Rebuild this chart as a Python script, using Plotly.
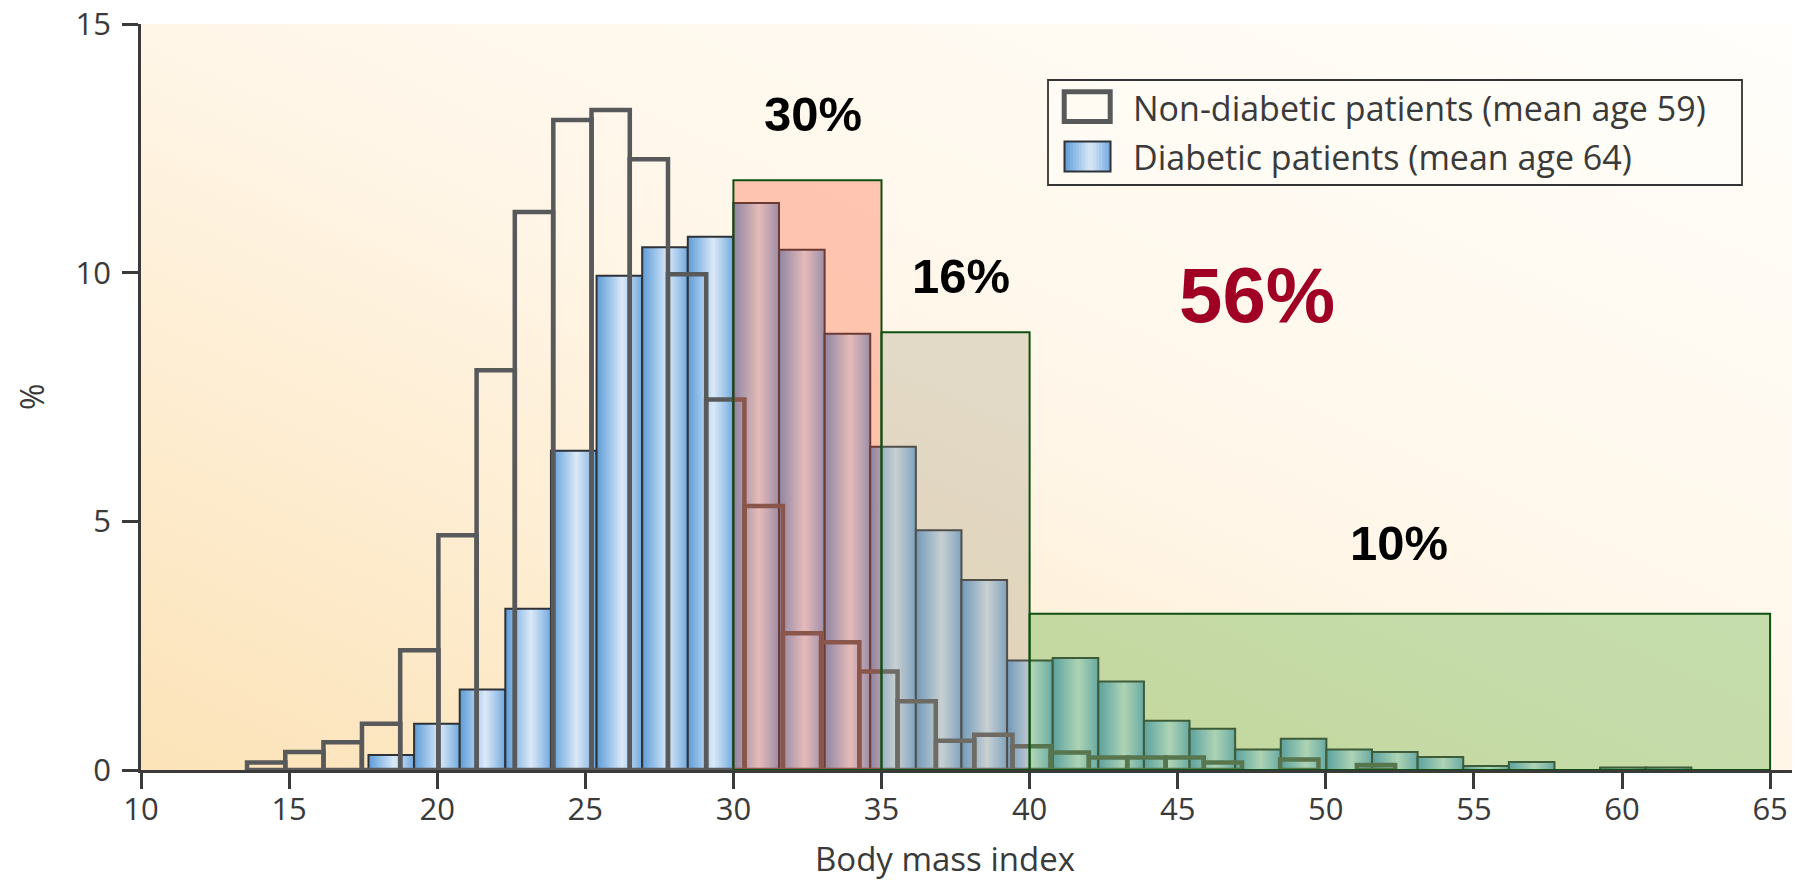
import base64
import plotly.graph_objects as go

# ---------------- data ----------------
bmi_ticks = [10, 15, 20, 25, 30, 35, 40, 45, 50, 55, 60, 65]
pct_ticks = [0, 5, 10, 15]

# Non-diabetic patients: histogram bins (left edge, % of patients)
nondiab_left = [13.58, 14.87, 16.16, 17.46, 18.75, 20.04, 21.33, 22.62, 23.92, 25.21,
                26.50, 27.79, 29.08, 30.38, 31.67, 32.96, 34.25, 35.54, 36.84, 38.13,
                39.42, 40.71, 42.00, 43.30, 44.59, 45.88, 47.17, 48.46, 49.76, 51.05]
nondiab_pct = [0.15, 0.36, 0.56, 0.93, 2.41, 4.72, 8.04, 11.22, 13.07, 13.27,
               12.28, 9.97, 7.45, 5.31, 2.75, 2.57, 1.98, 1.38, 0.59, 0.71,
               0.48, 0.35, 0.25, 0.25, 0.25, 0.15, 0.0, 0.21, 0.0, 0.10]
nondiab_width = 1.292

# Diabetic patients: histogram bins (left edge, % of patients)
diab_left = [17.68, 19.22, 20.76, 22.30, 23.84, 25.38, 26.92, 28.46, 30.00, 31.54,
             33.08, 34.62, 36.16, 37.70, 39.24, 40.78, 42.32, 43.86, 45.40, 46.94,
             48.48, 50.02, 51.56, 53.10, 54.64, 56.18, 57.72, 59.26, 60.80]
diab_pct = [0.30, 0.93, 1.62, 3.24, 6.42, 9.94, 10.51, 10.72, 11.40, 10.46,
            8.77, 6.50, 4.82, 3.82, 2.20, 2.25, 1.78, 0.99, 0.83, 0.41,
            0.63, 0.41, 0.36, 0.26, 0.08, 0.16, 0.0, 0.05, 0.05]
diab_width = 1.54

# Highlighted BMI classes (obesity I, II, III) for diabetic patients
region_lo = [30, 35, 40]
region_hi = [35, 40, 65]
region_top = [11.86, 8.80, 3.14]
region_label = ["30%", "16%", "10%"]
total_label = "56%"

legend_labels = ["Non-diabetic patients (mean age 59)", "Diabetic patients (mean age 64)"]

# ---------------- styling ----------------
OFF = 8                       # default page margin of the html body
W, H = 1800 - OFF, 881 - OFF  # figure size
PL, PR, PT, PB = 141, 1800, 24, 770   # plot area in page pixels
TXT = "#3a3a3a"
FONT = "Open Sans"

blue_cs = [[0.0, "#5f9bd4"], [0.22, "#8dbbe6"], [0.56, "#dbe9f7"], [0.82, "#9fc5ea"], [1.0, "#6fa8dc"]]
region_fill = ["rgba(255,80,40,0.30)", "rgba(160,150,120,0.30)", "rgba(89,172,55,0.35)"]
region_line = "#0f4f12"


def px_x(p):
    return (p - PL) / (PR - PL)


def px_y(p):
    return (PB - p) / (PB - PT)


def hex2rgb(h):
    h = h.lstrip("#")
    return tuple(int(h[i:i + 2], 16) for i in (0, 2, 4))


def cs_color(cs, t):
    for (t0, c0), (t1, c1) in zip(cs[:-1], cs[1:]):
        if t0 <= t <= t1:
            f = (t - t0) / (t1 - t0) if t1 > t0 else 0
            a, b = hex2rgb(c0), hex2rgb(c1)
            return "rgb(%d,%d,%d)" % tuple(round(a[i] + (b[i] - a[i]) * f) for i in range(3))
    return cs[-1][1]


fig = go.Figure()

# Diabetic bars (gradient filled)
for lo, h in zip(diab_left, diab_pct):
    if h <= 0:
        continue
    hi = lo + diab_width
    fig.add_trace(go.Scatter(
        x=[lo, lo, hi, hi, lo], y=[0, h, h, 0, 0],
        mode="lines", fill="toself",
        fillgradient=dict(type="horizontal", colorscale=blue_cs),
        line=dict(color="#2e3238", width=2),
        hoverinfo="skip", showlegend=False))

# Non-diabetic bars (outlines only)
xs, ys = [], []
for lo, h in zip(nondiab_left, nondiab_pct):
    if h <= 0:
        continue
    hi = lo + nondiab_width
    xs += [lo, lo, hi, hi, lo, None]
    ys += [0, h, h, 0, 0, None]
fig.add_trace(go.Scatter(x=xs, y=ys, mode="lines",
                         line=dict(color="#58595b", width=4.5),
                         hoverinfo="skip", showlegend=False))

shapes = []
annotations = []

# Highlight rectangles
for lo, hi, top, col in zip(region_lo, region_hi, region_top, region_fill):
    shapes.append(dict(type="rect", xref="x", yref="y", x0=lo, x1=hi, y0=0, y1=top,
                       fillcolor=col, line=dict(color=region_line, width=2), layer="above"))

# Region labels
label_pos = [(32.69, 13.19), (37.68, 9.93), (52.47, 4.56)]
for (lx, ly), txt in zip(label_pos, region_label):
    annotations.append(dict(x=lx, y=ly, xref="x", yref="y", text="<b>%s</b>" % txt,
                            showarrow=False, xanchor="center", yanchor="middle",
                            font=dict(family="Liberation Sans, Arial", size=49, color="#000000")))
annotations.append(dict(x=47.67, y=9.55, xref="x", yref="y", text="<b>%s</b>" % total_label,
                        showarrow=False, xanchor="center", yanchor="middle",
                        font=dict(family="Liberation Sans, Arial", size=78, color="#a00024")))

# Axis titles
annotations.append(dict(x=px_x(945), y=px_y(858), xref="paper", yref="paper",
                        text="Body mass index", showarrow=False,
                        xanchor="center", yanchor="middle",
                        font=dict(family=FONT, size=33, color=TXT)))
annotations.append(dict(x=px_x(31), y=px_y(397), xref="paper", yref="paper",
                        text="%", showarrow=False, textangle=-90,
                        xanchor="center", yanchor="middle",
                        font=dict(family=FONT, size=32, color=TXT)))

# Custom legend
shapes.append(dict(type="rect", xref="paper", yref="paper",
                   x0=px_x(1048), x1=px_x(1742), y0=px_y(185), y1=px_y(80),
                   fillcolor="rgba(255,253,248,0.5)", line=dict(color="#333333", width=1.8),
                   layer="above"))
shapes.append(dict(type="rect", xref="paper", yref="paper",
                   x0=px_x(1064.2), x1=px_x(1110.2), y0=px_y(121.6), y1=px_y(91.8),
                   fillcolor="#fffbf3", line=dict(color="#58595b", width=5), layer="above"))
n_strips = 16
sx0, sx1 = 1064.5, 1110.5
for i in range(n_strips):
    a = sx0 + (sx1 - sx0) * i / n_strips
    b = sx0 + (sx1 - sx0) * (i + 1) / n_strips + 0.6
    shapes.append(dict(type="rect", xref="paper", yref="paper",
                       x0=px_x(a), x1=px_x(b), y0=px_y(171.5), y1=px_y(141.5),
                       fillcolor=cs_color(blue_cs, (i + 0.5) / n_strips),
                       line=dict(width=0), layer="above"))
shapes.append(dict(type="rect", xref="paper", yref="paper",
                   x0=px_x(sx0), x1=px_x(sx1), y0=px_y(171.5), y1=px_y(141.5),
                   fillcolor="rgba(0,0,0,0)", line=dict(color="#2e3238", width=2), layer="above"))
for txt, cy in zip(legend_labels, [108, 157]):
    annotations.append(dict(x=px_x(1131), y=px_y(cy), xref="paper", yref="paper",
                            text=txt, showarrow=False, xanchor="left", yanchor="middle",
                            font=dict(family=FONT, size=34, color=TXT)))

# Background gradient of the plotting area
svg = ('<svg xmlns="http://www.w3.org/2000/svg" width="200" height="100" viewBox="0 0 200 100" '
       'preserveAspectRatio="none"><defs><linearGradient id="g" x1="0" y1="1" x2="1" y2="0">'
       '<stop offset="0" stop-color="#fce3b8"/><stop offset="0.5" stop-color="#fff6e8"/>'
       '<stop offset="1" stop-color="#fffefb"/></linearGradient></defs>'
       '<rect width="200" height="100" fill="url(#g)"/></svg>')
bg_src = "data:image/svg+xml;base64," + base64.b64encode(svg.encode()).decode()

axis_common = dict(ticks="outside", ticklen=16, tickwidth=2.5, tickcolor=TXT,
                   showline=True, linecolor=TXT, linewidth=2.5,
                   showgrid=False, zeroline=False, ticklabeloverflow="allow",
                   automargin=False,
                   tickfont=dict(family=FONT, size=31, color=TXT), fixedrange=True)

fig.update_layout(
    width=W, height=H, autosize=False,
    margin=dict(l=PL - OFF, r=(1800 - PR), t=PT - OFF, b=H - (PB - OFF), autoexpand=False),
    paper_bgcolor="white", plot_bgcolor="rgba(0,0,0,0)",
    xaxis=dict(range=[10, 10 + (PR - PL) / 29.62], tickmode="array", tickvals=bmi_ticks,
               ticklabelstandoff=-6, **axis_common),
    yaxis=dict(range=[0, 15], tickmode="array", tickvals=pct_ticks,
               ticklabelstandoff=5, **axis_common),
    shapes=shapes, annotations=annotations,
    images=[dict(source=bg_src, xref="paper", yref="paper", x=0, y=1, sizex=1, sizey=1,
                 xanchor="left", yanchor="top", sizing="stretch", layer="below")],
    showlegend=False,
)

fig.write_html("out.html")
